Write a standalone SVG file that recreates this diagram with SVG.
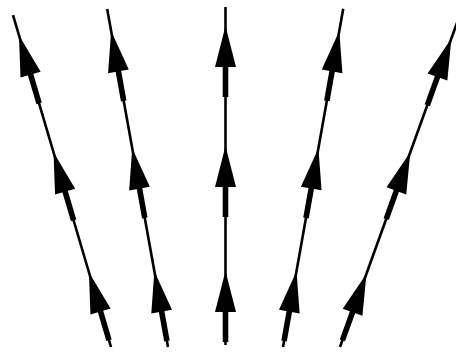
<svg xmlns="http://www.w3.org/2000/svg" xmlns:xlink="http://www.w3.org/1999/xlink" width="456" height="354" viewBox="0 0 456 354">
  <style>
    .thin { stroke: #000; stroke-width: 2.6; fill: none; }
    .thick { stroke: #000; stroke-width: 5.6; fill: none; }
    .head { fill: #000; stroke: none; }
  </style>
  <defs>
    <g id="arrow">
      <path class="thick" d="M0,-1 V30"/>
      <polygon class="head" points="0,-41 -10.5,0 10.5,0"/>
    </g>
  </defs>
  <rect width="456" height="354" fill="#fff"/>
  <g id="connectors">
    <g id="line1" transform="translate(111,347) rotate(-16.45)">
      <path class="thin" d="M0,0 V-346"/>
      <use xlink:href="#arrow" href="#arrow" y="-37"/>
      <use xlink:href="#arrow" href="#arrow" y="-162"/>
      <use xlink:href="#arrow" href="#arrow" y="-284"/>
    </g>
    <g id="line2" transform="translate(168,347) rotate(-10.2)">
      <path class="thin" d="M0,0 V-343.5"/>
      <use xlink:href="#arrow" href="#arrow" y="-36"/>
      <use xlink:href="#arrow" href="#arrow" y="-161"/>
      <use xlink:href="#arrow" href="#arrow" y="-280"/>
    </g>
    <g id="line3" transform="translate(225.5,345)">
      <path class="thin" d="M0,0 V-338"/>
      <use xlink:href="#arrow" href="#arrow" y="-33"/>
      <use xlink:href="#arrow" href="#arrow" y="-158"/>
      <use xlink:href="#arrow" href="#arrow" y="-278"/>
    </g>
    <g id="line4" transform="translate(283,347) rotate(10.1)">
      <path class="thin" d="M0,0 V-343.5"/>
      <use xlink:href="#arrow" href="#arrow" y="-36"/>
      <use xlink:href="#arrow" href="#arrow" y="-161"/>
      <use xlink:href="#arrow" href="#arrow" y="-280"/>
    </g>
    <g id="line5" transform="translate(340,347) rotate(19.85)">
      <path class="thin" d="M0,0 V-370"/>
      <use xlink:href="#arrow" href="#arrow" y="-37"/>
      <use xlink:href="#arrow" href="#arrow" y="-166"/>
      <use xlink:href="#arrow" href="#arrow" y="-287"/>
    </g>
  </g>
</svg>
